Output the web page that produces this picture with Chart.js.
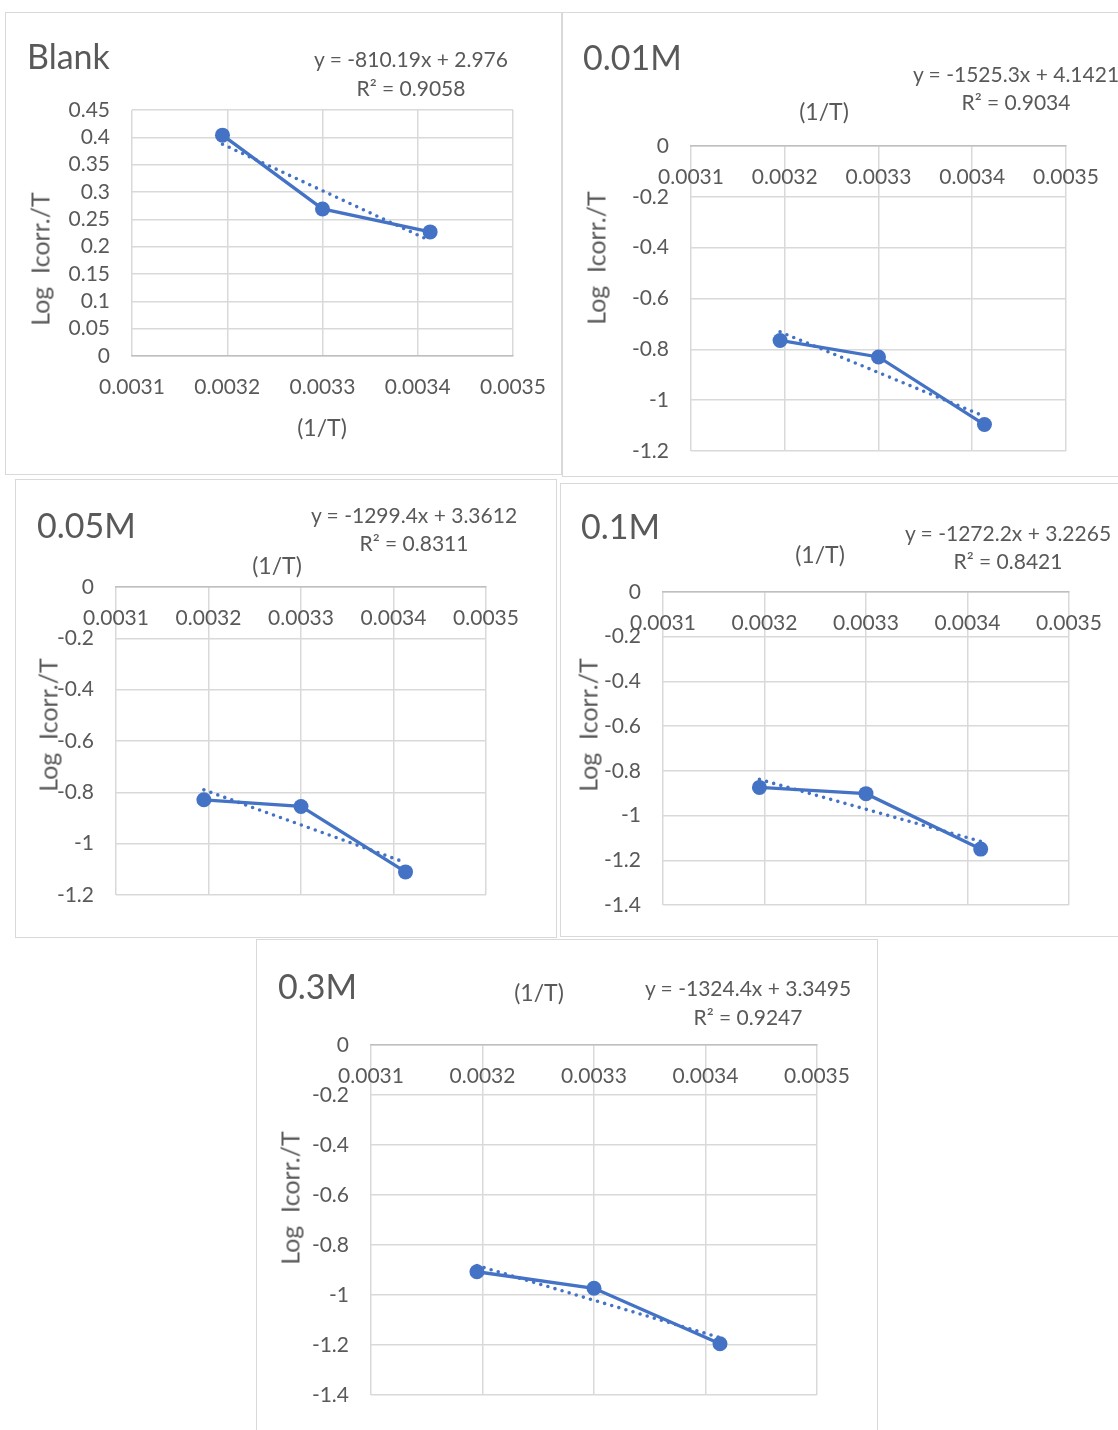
<!DOCTYPE html>
<html>
<head>
<meta charset="utf-8">
<script src="https://cdn.jsdelivr.net/npm/chart.js@4.4.1/dist/chart.umd.min.js"></script>
<style>
  body { margin: 0; background: #fff; width: 1118px; height: 1430px; position: relative; overflow: hidden;
         font-family: Lato, "Open Sans", sans-serif; color: #595959; }
  .panel { position: absolute; border: 1.5px solid #d9d9d9; box-sizing: border-box; background: #fff; }
  canvas { position: absolute; }
  .txt { position: absolute; white-space: pre; line-height: 1; transform: translate(-50%, -50%); }
  .title { font-size: 34px; transform: translate(0, -50%); }
  .eq { font-size: 21px; }
  .xt { font-size: 23px; }
  .yt { font-size: 25px; transform: translate(-50%, -50%) rotate(-90deg); }
</style>
</head>
<body>
<script>
// x values (1/T) shared by all series
const xValues = [0.003195, 0.0033, 0.003413];
const xTicks = [0.0031, 0.0032, 0.0033, 0.0034, 0.0035];

// Log Icorr./T
const blankValues = [0.404, 0.269, 0.227];
const m001Values = [-0.765, -0.830, -1.096];
const m005Values = [-0.829, -0.855, -1.110];
const m01Values = [-0.874, -0.902, -1.150];
const m03Values = [-0.907, -0.973, -1.195];

const blankTicks = [0, 0.05, 0.1, 0.15, 0.2, 0.25, 0.3, 0.35, 0.4, 0.45];
const ticks12 = [0, -0.2, -0.4, -0.6, -0.8, -1, -1.2];
const ticks14 = [0, -0.2, -0.4, -0.6, -0.8, -1, -1.2, -1.4];

// trendline equations shown on each chart
const panelNames = ['Blank', '0.01M', '0.05M', '0.1M', '0.3M'];
const slopes = [-810.19, -1525.3, -1299.4, -1272.2, -1324.4];
const intercepts = [2.976, 4.1421, 3.3612, 3.2265, 3.3495];
const rSquared = [0.9058, 0.9034, 0.8311, 0.8421, 0.9247];

const BLUE = '#4472C4';
const GRID = '#d9d9d9';
Chart.defaults.font.family = 'Lato, "Open Sans", sans-serif';
Chart.defaults.color = '#595959';

// layout: box [left, top, w, h], plot [l, t, r, b], text anchors
const panels = [
  { values: blankValues, yTicks: blankTicks, box: [5, 12, 557, 463], plot: [132, 110, 513, 356],
    title: [27, 56], eq: [411, 58, 87], xTitle: [322, 427], yTitle: [40, 259] },
  { values: m001Values, yTicks: ticks12, box: [562, 12, 563, 465], plot: [691, 146, 1066, 451],
    title: [583, 57], eq: [1016, 73, 101], xTitle: [824, 111], yTitle: [596, 258] },
  { values: m005Values, yTicks: ticks12, box: [15, 479, 542, 459], plot: [116, 587, 486, 895],
    title: [37, 525], eq: [414, 514, 542], xTitle: [277, 565], yTitle: [48, 725] },
  { values: m01Values, yTicks: ticks14, box: [560, 483, 565, 454], plot: [663, 592, 1069, 905],
    title: [581, 526], eq: [1008, 532, 560], xTitle: [820, 554], yTitle: [588, 725] },
  { values: m03Values, yTicks: ticks14, box: [256, 939, 622, 510], plot: [371, 1045, 817, 1395],
    title: [278, 986], eq: [748, 987, 1016], xTitle: [539, 992], yTitle: [290, 1198] },
];

function addText(cls, text, x, y) {
  const d = document.createElement('div');
  d.className = 'txt ' + cls;
  d.textContent = text;
  d.style.left = x + 'px';
  d.style.top = y + 'px';
  document.body.appendChild(d);
}

panels.forEach(p => {
  const box = document.createElement('div');
  box.className = 'panel';
  box.style.left = p.box[0] + 'px';
  box.style.top = p.box[1] + 'px';
  box.style.width = p.box[2] + 'px';
  box.style.height = p.box[3] + 'px';
  document.body.appendChild(box);
});

panels.forEach((p, i) => {
  // canvas is transparent, so it may reach a bit past its panel (room for label overflow)
  const cw = p.box[2] + 40;
  const ch = p.box[3] + 40;
  const canvas = document.createElement('canvas');
  canvas.width = cw;
  canvas.height = ch;
  canvas.style.left = p.box[0] + 'px';
  canvas.style.top = p.box[1] + 'px';
  document.body.appendChild(canvas);

  const yw = 90;
  const xa = xValues[0], xb = xValues[xValues.length - 1];
  const trend = [
    { x: xa, y: slopes[i] * xa + intercepts[i] },
    { x: xb, y: slopes[i] * xb + intercepts[i] },
  ];

  new Chart(canvas, {
    type: 'scatter',
    data: {
      datasets: [
        { label: 'trend', data: trend, showLine: true, borderColor: BLUE, borderWidth: 3.6,
          borderDash: [0, 7.4], borderCapStyle: 'round', pointRadius: 0, order: 0 },
        { label: panelNames[i], data: xValues.map((x, k) => ({ x, y: p.values[k] })), showLine: true,
          borderColor: BLUE, backgroundColor: BLUE, borderWidth: 3.3, pointRadius: 7.5,
          pointBorderWidth: 0, order: 1 },
      ],
    },
    options: {
      responsive: false,
      animation: false,
      events: [],
      layout: {
        padding: {
          left: p.plot[0] - p.box[0] - yw,
          top: p.plot[1] - p.box[1],
          right: p.box[0] + cw - p.plot[2],
          bottom: p.box[1] + ch - p.plot[3],
        },
      },
      plugins: { legend: { display: false }, tooltip: { enabled: false } },
      scales: {
        x: {
          type: 'linear',
          position: { y: 0 },
          min: xTicks[0],
          max: xTicks[xTicks.length - 1],
          afterBuildTicks: s => { s.ticks = xTicks.map(v => ({ value: v })); },
          grid: { color: GRID, lineWidth: 1.5, drawTicks: false },
          border: { color: '#bfbfbf', width: 1.5 },
          ticks: { padding: 19, font: { size: 21 }, maxRotation: 0, autoSkip: false,
                   callback: v => v.toFixed(4) },
        },
        y: {
          type: 'linear',
          min: Math.min(...p.yTicks),
          max: Math.max(...p.yTicks),
          afterBuildTicks: s => { s.ticks = p.yTicks.map(v => ({ value: v })); },
          afterFit: s => { s.width = yw; },
          grid: { color: GRID, lineWidth: 1.5, drawTicks: false },
          border: { display: false },
          ticks: { padding: 22, font: { size: 21 }, autoSkip: false,
                   callback: v => String(+v.toFixed(2)) },
        },
      },
    },
  });

  addText('title', panelNames[i], p.title[0], p.title[1]);
  addText('eq', 'y = ' + slopes[i] + 'x + ' + intercepts[i], p.eq[0], p.eq[1]);
  addText('eq', 'R² = ' + rSquared[i], p.eq[0], p.eq[2]);
  addText('xt', '(1/T)', p.xTitle[0], p.xTitle[1]);
  addText('yt', 'Log  Icorr./T', p.yTitle[0], p.yTitle[1]);
});
</script>
</body>
</html>
